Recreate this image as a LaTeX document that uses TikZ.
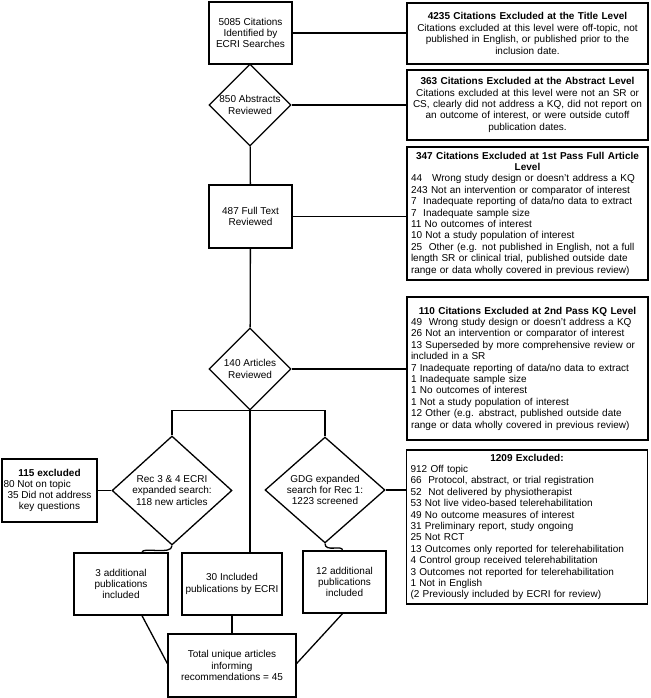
\documentclass[tikz,border=0pt]{standalone}
\usepackage{fontspec}
\setmainfont{Liberation Sans}
\usetikzlibrary{shapes.geometric}
\begin{document}
\begin{tikzpicture}[x=1pt,y=-1pt,
  flowbox/.style={draw,line width=1.3pt,align=center,inner sep=1pt,font=\fontsize{10}{11.2}\selectfont},
  exbox/.style={draw,line width=1.3pt,text width=233pt,inner sep=4pt,align=left,minimum width=241pt,font=\fontsize{10}{11.4}\selectfont},
  flowdia/.style={diamond,draw,line width=1.3pt,inner sep=0pt,align=center,font=\fontsize{10}{11.2}\selectfont},
  link/.style={line width=1.3pt}]
\useasboundingbox (0,0) rectangle (650,698);
% main column
\node[flowbox,minimum width=83pt,minimum height=62pt] (b1) at (250.5,33) {5085 Citations\\Identified by\\ECRI Searches};
\node[flowdia,minimum width=82pt,minimum height=82pt] (d1) at (250,105) {850 Abstracts\\Reviewed};
\node[flowbox,minimum width=83pt,minimum height=63pt] (b2) at (250.5,216.5) {487 Full Text\\Reviewed};
\node[flowdia,minimum width=82pt,minimum height=82pt] (d2) at (250,369) {140 Articles\\Reviewed};
\node[flowdia,minimum width=120pt,minimum height=97pt] (d3) at (172,490.5) {Rec 3 \& 4 ECRI\\expanded search:\\118 new articles};
\node[flowdia,minimum width=120pt,minimum height=97pt] (d4) at (325,490) {GDG expanded\\search for Rec 1:\\1223 screened};
\node[flowbox,minimum width=95pt,minimum height=63pt] (ex115) at (49.5,490.5) {\textbf{115 excluded}\\\makebox[92pt][l]{80 Not on topic}\\35 Did not address\\key questions};
\node[flowbox,minimum width=94pt,minimum height=62pt] (b3) at (121,584) {3 additional\\publications\\included};
\node[flowbox,minimum width=100pt,minimum height=62pt] (b30) at (232,584) {30 Included\\publications by ECRI};
\node[flowbox,minimum width=83pt,minimum height=62pt] (b12) at (344.5,582) {12 additional\\publications\\included};
\node[flowbox,minimum width=128pt,minimum height=63pt] (btot) at (232,665.5) {Total unique articles\\informing\\recommendations = 45};
% exclusion boxes
\node[exbox,align=center,minimum height=61pt] (ex1) at (527.5,33.5) {\textbf{4235 Citations Excluded at the Title Level}\\Citations excluded at this level were off-topic, not\\published in English, or published prior to the\\inclusion date.};
\node[exbox,align=center,minimum height=70pt] (ex2) at (527.5,105) {\textbf{363 Citations Excluded at the Abstract Level}\\Citations excluded at this level were not an SR or\\CS, clearly did not address a KQ, did not report on\\an outcome of interest, or were outside cutoff\\publication dates.};
\node[exbox,minimum height=133pt] (ex3) at (527.5,213.5) {\makebox[\linewidth]{\textbf{347 Citations Excluded at 1st Pass Full Article}}\\
\makebox[\linewidth]{\textbf{Level}}\\
44\ \ \ Wrong study design or doesn't address a KQ\\
243 Not an intervention or comparator of interest\\
7\ \ Inadequate reporting of data/no data to extract\\
7\ \ Inadequate sample size\\
11 No outcomes of interest\\
10 Not a study population of interest\\
25\ \ Other (e.g. not published in English, not a full\\
length SR or clinical trial, published outside date\\
range or data wholly covered in previous review)};
\node[exbox,minimum height=143pt] (ex4) at (527.5,368.5) {\makebox[\linewidth]{\textbf{110 Citations Excluded at 2nd Pass KQ Level}}\\
49\ \ Wrong study design or doesn't address a KQ\\
26 Not an intervention or comparator of interest\\
13 Superseded by more comprehensive review or\\
included in a SR\\
7 Inadequate reporting of data/no data to extract\\
1 Inadequate sample size\\
1 No outcomes of interest\\
1 Not a study population of interest\\
12 Other (e.g. abstract, published outside date\\
range or data wholly covered in previous review)};
\node[exbox,minimum width=240pt,minimum height=154pt] (ex5) at (527,527) {\makebox[\linewidth]{\textbf{1209 Excluded:}}\\
912 Off topic\\
66\ \ Protocol, abstract, or trial registration\\
52\ \ Not delivered by physiotherapist\\
53 Not live video-based telerehabilitation\\
49 No outcome measures of interest\\
31 Preliminary report, study ongoing\\
25 Not RCT\\
13 Outcomes only reported for telerehabilitation\\
4 Control group received telerehabilitation\\
3 Outcomes not reported for telerehabilitation\\
1 Not in English\\
(2 Previously included by ECRI for review)};
% connectors
\draw[link] (b1) -- (d1);
\draw[link] (d1) -- (b2);
\draw[link] (b2) -- (d2);
\draw[link] (b1.east) -- (b1.east -| ex1.west);
\draw[link] (d1.east) -- (d1.east -| ex2.west);
\draw[link] (b2.east) -- (b2.east -| ex3.west);
\draw[link] (d2.east) -- (d2.east -| ex4.west);
\draw[link] (d4.east) -- (d4.east -| ex5.west);
\draw[link] (d3.west) -- (d3.west -| ex115.east);
\draw[link] (d3.north) |- (d2.south) -| (d4.north);
\draw[link] (d2.south) -- (d2.south |- b30.north);
\draw[link] (d3.south) .. controls +(0,10) and +(0,-6) .. ([xshift=21pt]b3.north);
\draw[link] (d4.south) .. controls +(0,9) and +(0,-6) .. ([xshift=-2pt]b12.north);
\draw[link] ([xshift=21pt]b3.south) -- ([yshift=2pt]btot.west);
\draw[link] (b30.south) -- (btot.north);
\draw[link] ([xshift=-2pt]b12.south) -- ([yshift=2pt]btot.east);
\end{tikzpicture}
\end{document}
